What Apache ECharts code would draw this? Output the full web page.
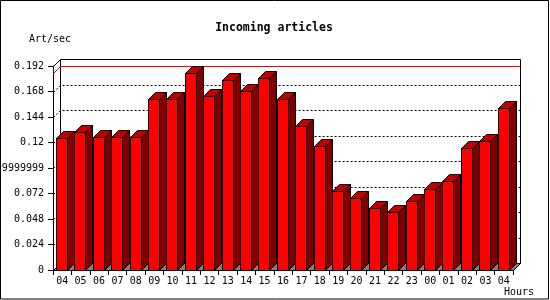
<!DOCTYPE html>
<html>
<head>
<meta charset="utf-8">
<script src="https://cdn.jsdelivr.net/npm/echarts@6/dist/echarts.min.js"></script>
<style>html,body{margin:0;padding:0;background:#fff;}#c{width:550px;height:300px;}</style>
</head>
<body>
<div id="c"></div>
<script>
const categories = ['04','05','06','07','08','09','10','11','12','13','14','15','16','17','18','19','20','21','22','23','00','01','02','03','04'];
const values = [0.1241, 0.1298, 0.1251, 0.1251, 0.1251, 0.1608, 0.1608, 0.1852, 0.1636, 0.1786, 0.1683, 0.1805, 0.1608, 0.1357, 0.1164, 0.0746, 0.0678, 0.0584, 0.0546, 0.0650, 0.0762, 0.0838, 0.1147, 0.1213, 0.1523];
const tickLabels = ['0','0.024','0.048','0.072','0.09599999999','0.12','0.144','0.168','0.192'];
const yStep = 0.024;
const yMax = 0.192;
const titleText = 'Incoming articles';
const yUnit = 'Art/sec';
const xUnit = 'Hours';

const FONT = "'DejaVu Sans Mono', 'Liberation Mono', monospace";
const D = 7;
const r = v => Math.round(v) + 0.5;
const maxVal = Math.max.apply(null, values);

const chart = echarts.init(document.getElementById('c'), null, {renderer: 'canvas'});

function decoRender(params, api) {
  const cw = api.size([1, 0])[0];
  const left = r(api.coord([0, 0])[0] - cw / 2);
  const right = r(api.coord([categories.length - 1, 0])[0] + cw / 2);
  const bottom = r(api.coord([0, 0])[1]);
  const top = r(api.coord([0, yMax])[1]);
  const children = [];
  children.push({type: 'rect', shape: {x: left + D, y: top - D, width: right - left, height: bottom - top},
    style: {fill: '#fff', stroke: '#000', lineWidth: 1}});
  children.push({type: 'line', shape: {x1: left, y1: top, x2: left + D, y2: top - D}, style: {stroke: '#000', lineWidth: 1}});
  for (let k = 1; k < tickLabels.length - 1; k++) {
    const yf = r(api.coord([0, k * yStep])[1]);
    children.push({type: 'polyline', shape: {points: [[left, yf], [left + D, yf - D], [right + D, yf - D]]},
      style: {stroke: '#000', lineWidth: 1, lineDash: [2, 2], fill: null}});
  }
  const ym = r(api.coord([0, maxVal])[1]);
  children.push({type: 'polyline', shape: {points: [[left, ym], [left + D, ym - D], [right + D, ym - D]]},
    style: {stroke: '#ff0000', lineWidth: 1, fill: null}});
  children.push({type: 'polygon', shape: {points: [[left, bottom], [right, bottom], [right + D, bottom - D], [left + D, bottom - D]]},
    style: {fill: '#808080', stroke: '#000', lineWidth: 1}});
  return {type: 'group', children: children};
}

function barRender(params, api) {
  const i = api.value(0);
  const v = api.value(1);
  const p = api.coord([i, v]);
  const b = api.coord([i, 0]);
  const cw = api.size([1, 0])[0];
  const x0 = p[0] - cw / 2;
  const fl = r(x0 + 3);
  const fr = r(x0 + 14);
  const top = r(p[1]);
  const bot = r(b[1]);
  return {type: 'group', children: [
    {type: 'polygon', shape: {points: [[fr, top], [fr + D, top - D], [fr + D, bot - D], [fr, bot]]},
      style: {fill: '#800000', stroke: '#000', lineWidth: 1}},
    {type: 'polygon', shape: {points: [[fl, top], [fl + D, top - D], [fr + D, top - D], [fr, top]]},
      style: {fill: '#c00000', stroke: '#000', lineWidth: 1}},
    {type: 'rect', shape: {x: fl, y: top, width: fr - fl, height: bot - top},
      style: {fill: '#ff0000', stroke: '#000', lineWidth: 1}}
  ]};
}

const option = {
  animation: false,
  backgroundColor: '#fff',
  grid: {left: 53, top: 66, width: 460, height: 204, containLabel: false, outerBoundsMode: 'none'},
  xAxis: {
    type: 'category', data: categories, boundaryGap: true,
    axisLine: {lineStyle: {color: '#000', width: 1}},
    axisTick: {show: true, length: 5, interval: 0, alignWithLabel: false, lineStyle: {color: '#000'}},
    axisLabel: {interval: 0, color: '#000', fontFamily: FONT, fontSize: 10, margin: 6, hideOverlap: false},
    splitLine: {show: false}
  },
  yAxis: {
    type: 'value', min: 0, max: yMax, interval: yStep,
    axisLine: {show: true, lineStyle: {color: '#000', width: 1}},
    axisTick: {show: true, length: 5, lineStyle: {color: '#000'}},
    axisLabel: {color: '#000', fontFamily: FONT, fontSize: 10, margin: 9, hideOverlap: false,
      formatter: v => tickLabels[Math.round(v / yStep)]},
    splitLine: {show: false}
  },
  series: [
    {type: 'custom', z: 1, renderItem: decoRender, data: [[0, 0]], silent: true},
    {type: 'custom', z: 3, renderItem: barRender, data: values.map((v, i) => [i, v])}
  ],
  graphic: [
    {type: 'rect', z: 100, shape: {x: 0.5, y: 0.5, width: 548, height: 298.5}, style: {fill: null, stroke: '#000', lineWidth: 1}},
    {type: 'text', z: 100, style: {text: titleText, x: 274, y: 28, textAlign: 'center', textVerticalAlign: 'middle', font: "bold 11.5px 'DejaVu Sans Mono', monospace", fill: '#000'}},
    {type: 'text', z: 100, style: {text: yUnit, x: 29, y: 39, textAlign: 'left', textVerticalAlign: 'middle', font: "10px 'DejaVu Sans Mono', monospace", fill: '#000'}},
    {type: 'text', z: 100, style: {text: xUnit, x: 504, y: 292, textAlign: 'left', textVerticalAlign: 'middle', font: "10px 'DejaVu Sans Mono', monospace", fill: '#000'}}
  ]
};
chart.setOption(option);
</script>
</body>
</html>
